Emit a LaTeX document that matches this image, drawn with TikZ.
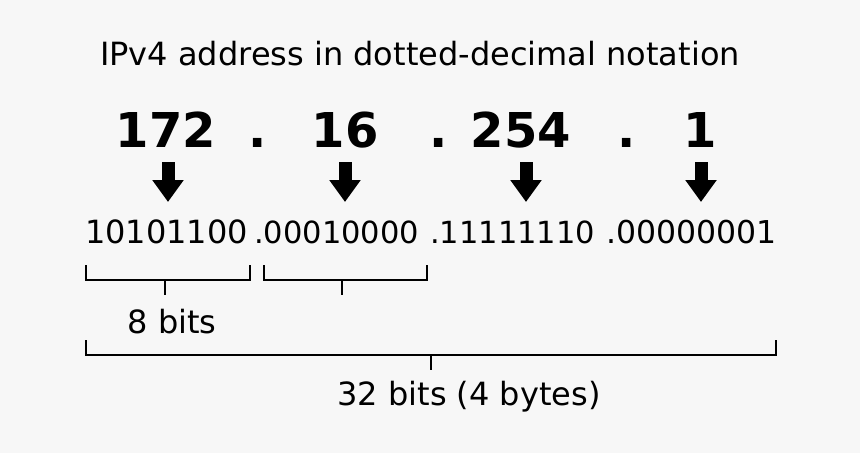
\documentclass[tikz,border=0pt]{standalone}
\usepackage{fontspec}
\setmainfont{DejaVu Sans}
\usetikzlibrary{arrows.meta}
\definecolor{bgcol}{HTML}{F7F7F7}
\tikzset{
  txt/.style={font=\fontsize{32}{38}\selectfont, anchor=base, inner sep=0pt},
  bin/.style={txt, anchor=base west, font=\fontsize{#1}{38}\selectfont},
  bin/.default=32,
  dec/.style={font=\fontsize{48}{58}\selectfont\bfseries, anchor=base, inner sep=0pt},
  bracket/.style={line width=2pt},
  bigarrow/.style={line width=13pt, -{Triangle[width=30pt,length=22pt]}}
}
\begin{document}
\begin{tikzpicture}[x=1pt,y=-1pt]
    \fill[bgcol] (0,0) rectangle (860,453);
    \useasboundingbox (0,0) rectangle (860,453);
        % title
        \node[txt] (title) at (420,65) {IPv4 address in dotted-decimal notation};
        % decimal octets
        \node[dec] (d1) at (166,147) {172};
        \node[dec] (p1) at (258,147) {.};
        \node[dec] (d2) at (345,147) {16};
        \node[dec] (p2) at (439,147) {.};
        \node[dec] (d3) at (521,147) {254};
        \node[dec] (p3) at (627,147) {.};
        \node[dec] (d4) at (700,147) {1};
        % binary octets
        \node[bin] (b1) at (85,243) {10101100};
        \node[bin=30.5] (b2) at (254,243) {.00010000};
        \node[bin=30.5] (b3) at (430,243) {.11111110};
        \node[bin=31.5] (b4) at (606,243) {.00000001};
        \foreach \d/\s in {d1/2,d2/0,d3/5,d4/1}
            \draw[bigarrow] ([xshift=\s pt,yshift=-15pt]\d.base) -- ([xshift=\s pt,yshift=-55pt]\d.base);
        % brackets
        \draw[bracket] (86,265) -- (86,280) -- (250,280) -- (250,265);
        \draw[bracket] (165,280) -- (165,295);
        \draw[bracket] (263.5,265) -- (263.5,280) -- (426.5,280) -- (426.5,265);
        \draw[bracket] (342,280) -- (342,295);
        \node[txt] (byte) at (172,333) {8 bits};
        \draw[bracket] (86,340) -- (86,355) -- (776,355) -- (776,340);
        \draw[bracket] (431,355) -- (431,370);
        \node[txt] (word) at (469,405) {32 bits (4 bytes)};
\end{tikzpicture}
\end{document}
